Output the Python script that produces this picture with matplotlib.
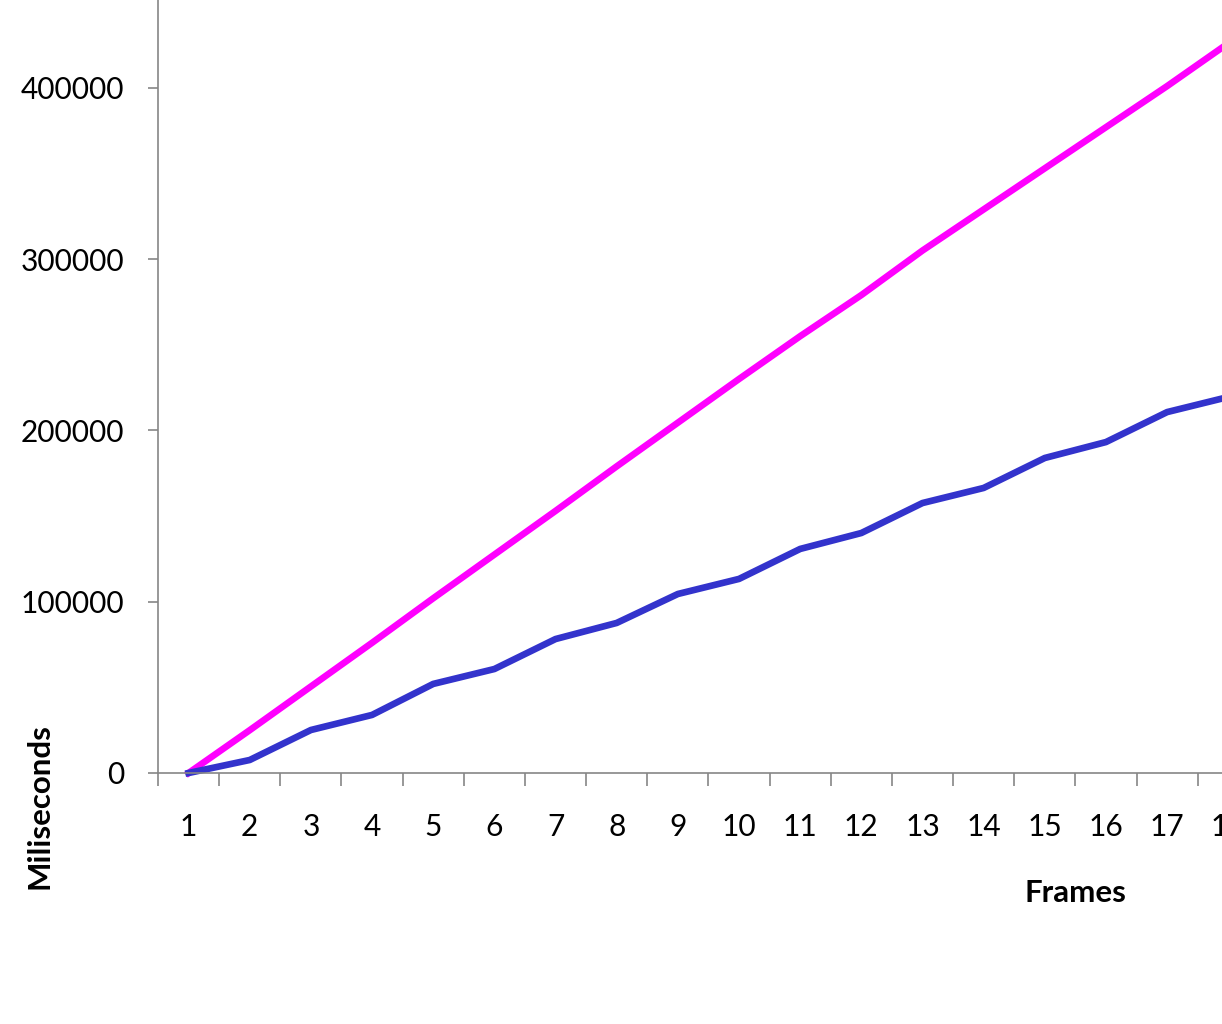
import matplotlib
matplotlib.use("Agg")
import matplotlib.pyplot as plt
import numpy as np

frames = list(range(1, 19))
series_a = [0, 25000, 50500, 76000, 102000, 127500, 153000, 179000, 204500,
            230000, 255000, 279000, 305000, 329000, 353000, 377000, 401000, 426000]
series_b = [0, 7600, 25100, 33900, 52000, 60700, 78200, 87600, 104500,
            113300, 130800, 140100, 157600, 166400, 183900, 193200, 210700, 219500]
y_ticks = [0, 100000, 200000, 300000, 400000]

plt.rcParams['font.family'] = ['Lato', 'DejaVu Sans']

W, H = 1222, 1024
fig = plt.figure(figsize=(W / 100, H / 100), dpi=100)
step = 61.16
n_slots = 20
ax_left = 158 / W
ax_bottom = (H - 773) / H
ax_w = n_slots * step / W
ax_h = 856.5 / H
ax = fig.add_axes([ax_left, ax_bottom, ax_w, ax_h])

ax.plot(frames, series_a, color='#FF00FF', lw=4.8, solid_joinstyle='round', clip_on=False)
ax.plot(frames, series_b, color='#3333CC', lw=4.8, solid_joinstyle='round', clip_on=False)

ax.set_xlim(0.5, n_slots + 0.5)
ax.set_ylim(0, 500000)

for s in ['top', 'right']:
    ax.spines[s].set_visible(False)
for s in ['left', 'bottom']:
    ax.spines[s].set_color('#868686')
    ax.spines[s].set_linewidth(1.2)

ax.set_xticks(frames)
ax.set_xticklabels([str(f) for f in frames])
ax.set_xticks(np.arange(0.5, n_slots + 1, 1), minor=True)
ax.tick_params(axis='x', which='major', length=0, pad=29, labelsize=21.5, labelcolor='black')
ax.tick_params(axis='x', which='minor', length=9, width=1.2, color='#868686', direction='out')

ax.set_yticks(y_ticks)
ax.set_yticklabels([str(v) for v in y_ticks])
ax.tick_params(axis='y', which='major', length=7.5, width=1.2, color='#868686',
               direction='out', pad=17, labelsize=21.5, labelcolor='black')

fig.text(1075 / W, 1 - 893 / H, 'Frames', ha='center', va='center',
         fontsize=22.5, fontweight='bold')
fig.text(40 / W, 1 - 806 / H, 'Miliseconds', ha='center', va='center',
         rotation=90, fontsize=22.5, fontweight='bold')

fig.savefig('out.png', dpi=100, facecolor='white')
